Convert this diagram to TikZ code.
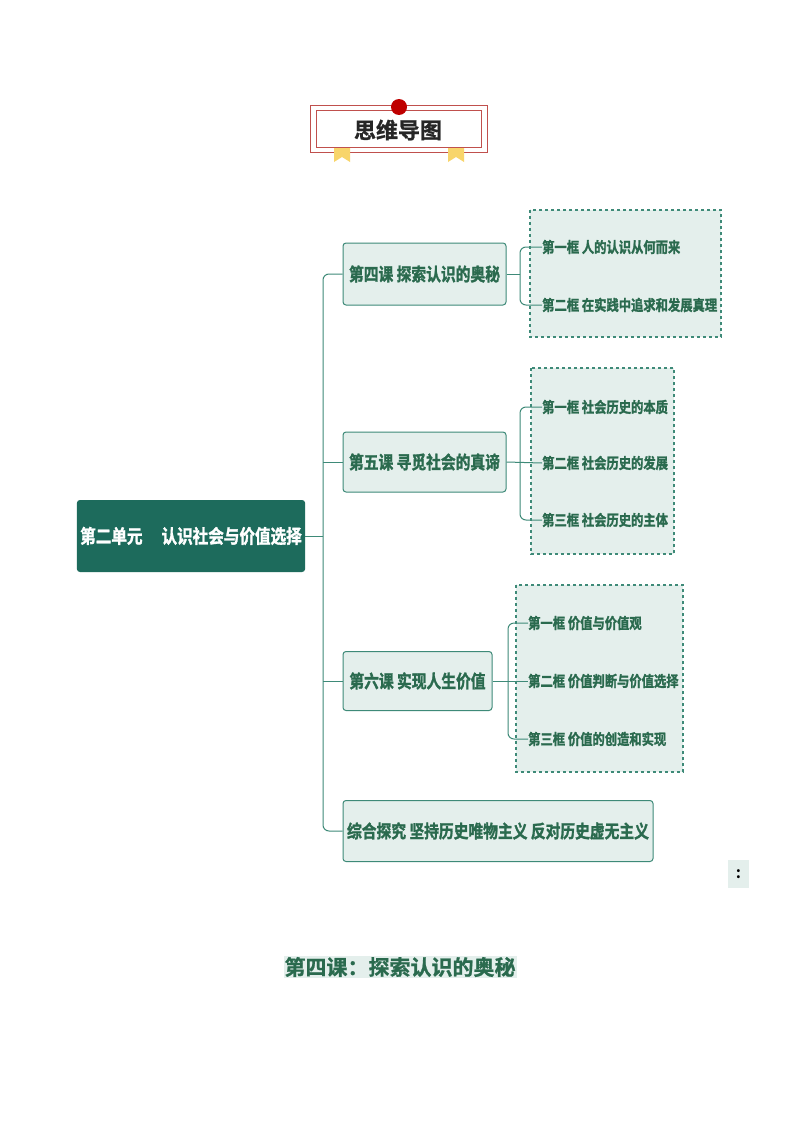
\documentclass[tikz,border=0pt]{standalone}
\usepackage{fontspec}
\newfontfamily\cjk{Noto Sans CJK SC Bold}
\newfontfamily\cjkc[FakeStretch=0.82,FakeBold=1.5]{Noto Sans CJK SC Bold}
\newfontfamily\cjkh[FakeBold=1]{Noto Sans CJK SC Bold}
\begin{document}
\begin{tikzpicture}[x=1pt,y=-1pt,
  lesson/.style={draw=tealline,fill=boxfill,rounded corners=3pt,line width=1pt,inner sep=0pt,font=\cjkc\fontsize{18}{20}\selectfont,text=textgreen},
  item/.style={anchor=west,inner sep=0pt,font=\cjkc\fontsize{15}{17}\selectfont,text=textgreen},
  dbox/.style={draw=tealline,fill=boxfill,dashed,line width=1.3pt},
  conn/.style={draw=tealline,line width=1pt,rounded corners=6pt}]
\definecolor{tealline}{HTML}{3E8A78}
\definecolor{boxfill}{HTML}{E4EFEC}
\definecolor{textgreen}{HTML}{2A6A4E}
\definecolor{maingreen}{HTML}{1D6B5C}
\definecolor{framered}{HTML}{C0504D}
\definecolor{ribbon}{HTML}{F8D56B}
\useasboundingbox[fill=white] (0,0) rectangle (800,1132);
% title
\draw[framered,line width=0.8pt] (310,105) rectangle (487,152);
\draw[framered,line width=0.8pt] (316,110) rectangle (481,147);
\fill[ribbon] (334,148) -- (350,148) -- (350,162) -- (342,157) -- (334,162) -- cycle;
\fill[ribbon] (448,148) -- (464,148) -- (464,162) -- (456,157) -- (448,162) -- cycle;
\fill[red!75!black] (399,107) circle (8);
\node[text=black!85] (title) at (398,130) {\cjkh\fontsize{22}{24}\selectfont 思维导图};
% main
\node[fill=maingreen,rounded corners=3pt,minimum width=222pt,minimum height=72pt,text=white,font=\cjkc\fontsize{19}{21}\selectfont] (main) at (191,536) {第二单元\quad 认识社会与价值选择};
% lessons
\node[lesson,minimum width=163pt,minimum height=62pt] (l4) at (424.5,274) {第四课 探索认识的奥秘};
\node[lesson,minimum width=163pt,minimum height=60pt] (l5) at (424.5,462) {第五课 寻觅社会的真谛};
\node[lesson,minimum width=149pt,minimum height=59pt] (l6) at (417.5,681) {第六课 实现人生价值};
\node[lesson,minimum width=310pt,minimum height=61pt] (l7) at (498,831) {综合探究 坚持历史唯物主义 反对历史虚无主义};
\coordinate (trunk) at (323,536);
\draw[conn] (main.east) -- (trunk);
\draw[conn] (l4.west) -| (trunk);
\draw[conn] (l7.west) -| (trunk);
\draw[conn] (l5.west) -- (323,462);
\draw[conn] (l6.west) -- (323,681);
% dashed boxes
\draw[dbox] (530,210) rectangle (721,337);
\draw[dbox] (531,368) rectangle (674,554);
\draw[dbox] (516,585) rectangle (683,772);
\node[item] (a1) at (542,247) {第一框 人的认识从何而来};
\node[item] (a2) at (542,305) {第二框 在实践中追求和发展真理};
\node[item] (b1) at (542,407) {第一框 社会历史的本质};
\node[item] (b2) at (542,463) {第二框 社会历史的发展};
\node[item] (b3) at (542,520) {第三框 社会历史的主体};
\node[item] (c1) at (528,623) {第一框 价值与价值观};
\node[item] (c2) at (528,681) {第二框 价值判断与价值选择};
\node[item] (c3) at (528,739) {第三框 价值的创造和实现};
\coordinate (ja) at (520,274);
\draw[conn] (l4.east) -- (ja);
\draw[conn] (a1.west) -| (ja);
\draw[conn] (a2.west) -| (ja);
\coordinate (jb) at (520,462);
\draw[conn] (l5.east) -- (b2.west);
\draw[conn] (b1.west) -| (jb);
\draw[conn] (b3.west) -| (jb);
\coordinate (jc) at (508,681);
\draw[conn] (l6.east) -- (c2.west);
\draw[conn] (c1.west) -| (jc);
\draw[conn] (c3.west) -| (jc);
% colon box
\node[fill=boxfill,minimum width=21pt,minimum height=28pt,inner sep=0pt,font=\cjk\fontsize{16}{18}\selectfont] (colon) at (738.5,874) {:};
% bottom heading
\node[fill=boxfill,inner sep=1pt,text=textgreen,font=\cjkh\fontsize{21}{24}\selectfont] (head) at (400,967) {第四课：探索认识的奥秘};
\end{tikzpicture}
\end{document}
